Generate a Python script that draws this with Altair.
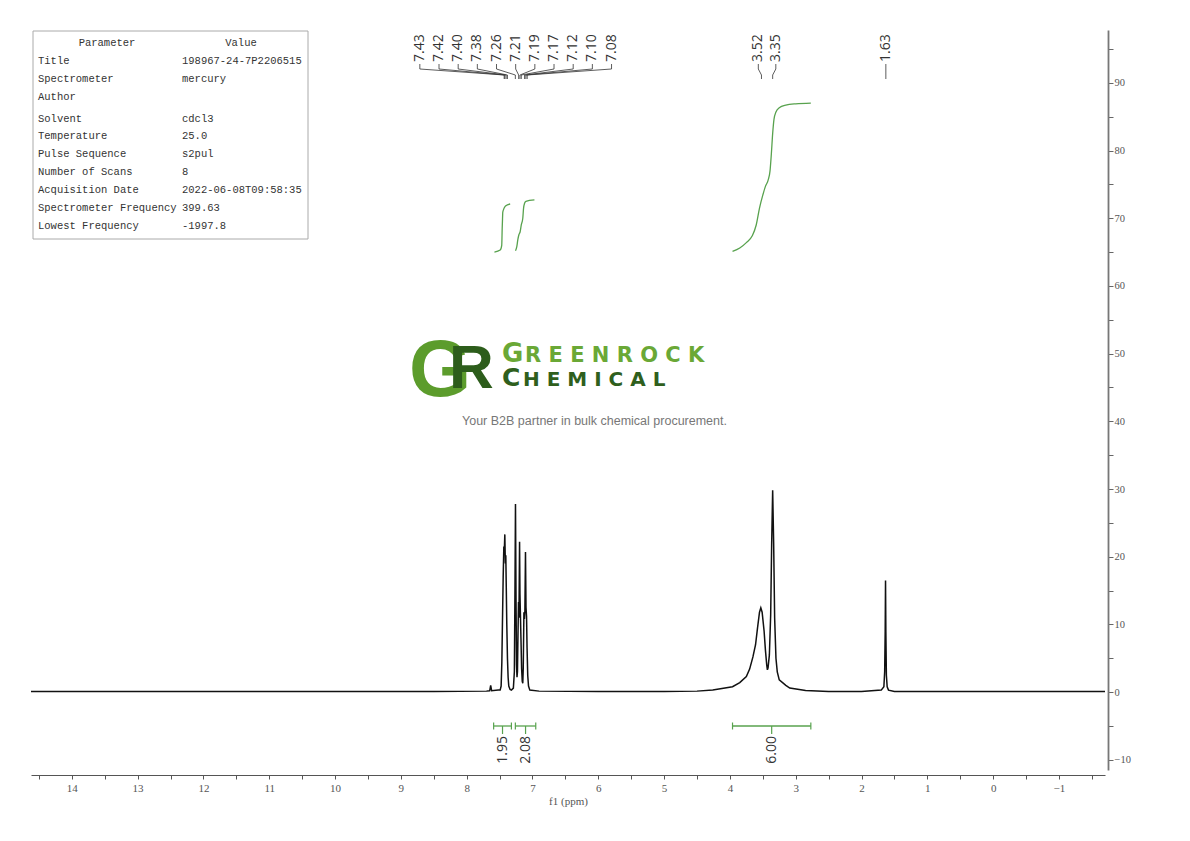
import altair as alt
import pandas as pd

# ---------------- values ----------------
# spectrum trace, (ppm, intensity) pairs, high ppm -> low ppm
baseline_left = [(14.62, 0.1), (12.0, 0.1), (10.0, 0.1), (8.5, 0.1), (7.70, 0.15),
                 (7.65, 0.2), (7.635, 1.0), (7.62, 0.2), (7.52, 0.3)]
aromatic_pts = [(7.491, 0.3), (7.476, 0.9), (7.465, 4.5), (7.455, 11.0), (7.445, 17.0),
                (7.435, 21.5), (7.428, 20.8), (7.42, 23.3), (7.412, 19.0), (7.405, 20.2),
                (7.398, 15.5), (7.39, 10.0), (7.38, 5.0), (7.37, 2.2), (7.36, 0.9),
                (7.34, 0.4), (7.32, 0.3), (7.29, 0.6), (7.275, 3.0), (7.266, 15.0),
                (7.258, 27.8), (7.25, 14.0), (7.242, 4.0), (7.235, 2.2), (7.228, 3.0),
                (7.22, 8.5), (7.212, 13.3), (7.205, 11.0), (7.196, 22.2), (7.19, 14.5),
                (7.183, 11.5), (7.175, 8.0), (7.165, 3.5), (7.155, 1.6), (7.147, 1.3),
                (7.14, 3.5), (7.13, 11.8), (7.122, 10.8), (7.115, 12.0), (7.106, 20.7),
                (7.098, 12.5), (7.09, 11.2), (7.082, 6.5), (7.072, 2.5), (7.06, 0.9),
                (7.04, 0.3)]
middle_pts = [(6.9, 0.15), (6.0, 0.1), (5.0, 0.1), (4.5, 0.15), (4.26, 0.3)]
aliphatic_pts = [(3.96, 0.8), (3.85, 1.4), (3.75, 2.3), (3.70, 3.4), (3.65, 5.2),
                 (3.61, 7.0), (3.58, 9.5), (3.55, 11.8), (3.53, 12.45), (3.51, 11.8),
                 (3.48, 9.0), (3.46, 6.2), (3.44, 4.0), (3.43, 3.3), (3.42, 3.6),
                 (3.40, 5.5), (3.38, 11.5), (3.365, 22.0), (3.35, 29.8), (3.335, 22.0),
                 (3.32, 11.0), (3.30, 5.0), (3.28, 3.0), (3.25, 1.8), (3.15, 1.0),
                 (3.09, 0.6), (2.85, 0.25), (2.5, 0.1), (2.0, 0.1)]
singlet_pts = [(1.70, 0.3), (1.66, 0.8), (1.648, 3.0), (1.64, 9.0), (1.635, 16.5),
               (1.63, 9.0), (1.622, 2.5), (1.61, 0.8), (1.59, 0.3), (1.5, 0.1),
               (0.0, 0.1), (-1.70, 0.1)]

# integral curves
integral_1 = [(7.578, 65.0), (7.49, 65.3), (7.467, 66.0), (7.46, 68.5), (7.455, 69.9),
              (7.451, 70.9), (7.43, 71.5), (7.41, 71.8), (7.339, 72.1)]
integral_2 = [(7.258, 65.2), (7.238, 65.8), (7.223, 66.8), (7.205, 67.6), (7.187, 68.0),
              (7.17, 69.0), (7.147, 70.0), (7.135, 71.5), (7.12, 72.2), (7.10, 72.5),
              (6.97, 72.7)]
integral_3 = [(3.96, 65.1), (3.85, 65.6), (3.75, 66.4), (3.66, 67.4), (3.60, 69.0),
              (3.55, 71.5), (3.50, 73.4), (3.46, 74.7), (3.42, 75.6), (3.39, 77.0),
              (3.37, 79.5), (3.35, 82.5), (3.33, 84.6), (3.30, 85.7), (3.25, 86.3),
              (3.15, 86.7), (3.00, 86.9), (2.77, 87.0)]

integral_ranges = [(7.59, 7.32), (7.26, 6.95), (3.96, 2.77)]
integral_labels = ["1.95", "2.08", "6.00"]

peaks_aromatic = [7.43, 7.42, 7.40, 7.38, 7.26, 7.21, 7.19, 7.17, 7.12, 7.10, 7.08]
peaks_ch2 = [3.52, 3.35]
peaks_single = [1.63]

param_names = ["Title", "Spectrometer", "Author", "Solvent", "Temperature",
               "Pulse Sequence", "Number of Scans", "Acquisition Date",
               "Spectrometer Frequency", "Lowest Frequency"]
param_values = ["198967-24-7P2206515", "mercury", "", "cdcl3", "25.0", "s2pul", "8",
                "2022-06-08T09:58:35", "399.63", "-1997.8"]

x_tick_values = [v / 2 for v in range(-3, 30)]
y_tick_values = [float(v) for v in range(-10, 96, 5)]

# ---------------- layout ----------------
W, H = 1074, 740
X_MIN, X_MAX = -1.70, 14.62
Y_MIN, Y_MAX = -11.5, 97.8
GREEN = "#58a24e"
TXT = "#333333"


def vx(px):   # plot-x pixel -> ppm
    return X_MAX - px / W * (X_MAX - X_MIN)


def vy(py):   # plot-y pixel -> intensity
    return Y_MAX - py / H * (Y_MAX - Y_MIN)


def ppm2px(ppm):
    return (X_MAX - ppm) / (X_MAX - X_MIN) * W


xs = alt.Scale(domain=[X_MIN, X_MAX], reverse=True, nice=False, zero=False)
ys = alt.Scale(domain=[Y_MIN, Y_MAX], nice=False, zero=False)
x_axis = alt.Axis(values=x_tick_values,
                  labelExpr="datum.value % 1 == 0 ? format(datum.value, 'd') : ''",
                  grid=False, tickSize=4, tickColor="#555", domainColor="#555", domainWidth=1.2,
                  labelFont="Liberation Serif", labelFontSize=11, labelColor="#555",
                  labelPadding=3, labelOverlap=False, title="f1 (ppm)",
                  titleFont="Liberation Serif", titleFontSize=11, titleFontWeight="normal",
                  titleColor="#555", titlePadding=2, offset=5, orient="bottom")
y_axis = alt.Axis(values=y_tick_values,
                  labelExpr="datum.value % 10 == 0 ? format(datum.value, 'd') : ''",
                  grid=False, tickSize=5, tickColor="#666", domainColor="#777", domainWidth=1.8,
                  labelFont="Liberation Serif", labelFontSize=10.5, labelColor="#555",
                  labelPadding=1, labelOverlap=False, title="", offset=3, orient="right")
X = alt.X("x:Q", scale=xs, axis=x_axis)
Y = alt.Y("y:Q", scale=ys, axis=y_axis)

# spectrum
spec = baseline_left + aromatic_pts + middle_pts + aliphatic_pts + singlet_pts
spec_df = pd.DataFrame({"x": [a for a, b in spec], "y": [b for a, b in spec],
                        "k": list(range(len(spec)))})
spectrum = alt.Chart(spec_df).mark_line(color="#111", strokeWidth=1.5).encode(
    x=X, y=Y, order="k:Q")

# integrals
rows = []
for gi, curve in enumerate([integral_1, integral_2, integral_3]):
    for k, (a, b) in enumerate(curve):
        rows.append({"x": a, "y": b, "g": gi, "k": k})
integ = alt.Chart(pd.DataFrame(rows)).mark_line(
    color=GREEN, strokeWidth=1.3, interpolate="monotone").encode(
    x=X, y=Y, detail="g:N", order="k:Q")

# integration bars
bar_rows, cap_rows, lab_rows = [], [], []
for (a, b), lab in zip(integral_ranges, integral_labels):
    mid = (a + b) / 2
    bar_rows.append({"x": a, "x2": b, "y": vy(696)})
    for e in (a, b):
        cap_rows.append({"x": e, "y": vy(692.5), "y2": vy(699.5)})
    cap_rows.append({"x": mid, "y": vy(696), "y2": vy(704)})
    lab_rows.append({"x": mid, "y": vy(706), "t": lab})
bars = alt.Chart(pd.DataFrame(bar_rows)).mark_rule(color=GREEN, strokeWidth=1.3).encode(
    x=X, x2="x2:Q", y=Y)
caps = alt.Chart(pd.DataFrame(cap_rows)).mark_rule(color=GREEN, strokeWidth=1.2).encode(
    x=X, y=Y, y2="y2:Q")
int_labels = alt.Chart(pd.DataFrame(lab_rows)).mark_text(
    angle=270, align="right", baseline="middle", font="Open Sans", fontSize=14,
    color=TXT).encode(x=X, y=Y, text="t:N")

# peak labels
lab_pts, con_pts = [], []
cid = 0
for group, step in ((peaks_aromatic, 19.17), (peaks_ch2, 17.5), (peaks_single, 0.0)):
    pxs = [ppm2px(p) for p in group]
    centre = (max(pxs) + min(pxs)) / 2
    n = len(group)
    for i, (p, ppx) in enumerate(zip(group, pxs)):
        lx = centre + (i - (n - 1) / 2) * step
        lab_pts.append({"x": vx(lx), "y": vy(32), "t": f"{p:.2f}"})
        for k, (xx, yy) in enumerate([(lx, 34), (lx, 39), (ppx, 45), (ppx, 49)]):
            con_pts.append({"x": vx(xx), "y": vy(yy), "g": cid, "k": k})
        cid += 1
peak_labels = alt.Chart(pd.DataFrame(lab_pts)).mark_text(
    angle=270, align="left", baseline="middle", font="Open Sans", fontSize=14,
    color=TXT).encode(x=X, y=Y, text="t:N")
connectors = alt.Chart(pd.DataFrame(con_pts)).mark_line(color="#333", strokeWidth=0.8).encode(
    x=X, y=Y, detail="g:N", order="k:Q")

# parameter table
box = alt.Chart(pd.DataFrame([{"x": vx(2), "x2": vx(277), "y": vy(1), "y2": vy(209)}])).mark_rect(
    fill="white", stroke="#aaaaaa", strokeWidth=1).encode(x=X, x2="x2:Q", y=Y, y2="y2:Q")
trow = []
for i, (nm, val) in enumerate(zip(param_names, param_values)):
    yy = 31 + i * 17.85 + (4 if i >= 3 else 0)
    trow.append({"x": vx(7), "y": vy(yy), "t": nm})
    trow.append({"x": vx(151), "y": vy(yy), "t": val})
table_text = alt.Chart(pd.DataFrame(trow)).mark_text(
    align="left", baseline="middle", font="Liberation Mono", fontSize=10.5, color=TXT).encode(
    x=X, y=Y, text="t:N")
head = alt.Chart(pd.DataFrame([{"x": vx(76), "y": vy(13), "t": "Parameter"},
                               {"x": vx(210), "y": vy(13), "t": "Value"}])).mark_text(
    align="center", baseline="middle", font="Liberation Mono", fontSize=10.5, color=TXT).encode(
    x=X, y=Y, text="t:N")

# watermark logo
def logo_text(t, px, py, size, color, font, weight="bold", align="left"):
    return alt.Chart(pd.DataFrame([{"x": vx(px), "y": vy(py), "t": t}])).mark_text(
        align=align, baseline="alphabetic", font=font, fontSize=size, fontWeight=weight,
        color=color).encode(x=X, y=Y, text="t:N")


logo = [
    logo_text("G", 409, 366, 80, "#5c9c2c", "Liberation Sans", align="center"),
    logo_text("R", 440.5, 358, 62, "#2d5d1b", "Liberation Sans", align="center"),
    logo_text("G", 471, 332, 26, "#6aa836", "DejaVu Sans"),
    logo_text("R E E N R O C K", 494, 332, 21, "#6aa836", "DejaVu Sans"),
    logo_text("C", 471, 356, 25, "#2f5f1d", "DejaVu Sans"),
    logo_text("H E M I C A L", 492, 356, 20, "#2f5f1d", "DejaVu Sans"),
    alt.Chart(pd.DataFrame([{"x": vx(563.5), "y": vy(391),
                             "t": "Your B2B partner in bulk chemical procurement."}])).mark_text(
        align="center", baseline="middle", font="Liberation Sans", fontSize=12.5,
        color="#777777").encode(x=X, y=Y, text="t:N"),
]

chart = alt.layer(spectrum, integ, bars, caps, int_labels, connectors, peak_labels,
                  box, table_text, head, *logo).properties(
    width=W, height=H,
    padding={"left": 23, "top": 22, "right": 60, "bottom": 50},
    autosize=alt.AutoSizeParams(type="none"),
).configure_view(stroke=None)

chart.save("out.html", embed_options={"renderer": "svg", "actions": False})
